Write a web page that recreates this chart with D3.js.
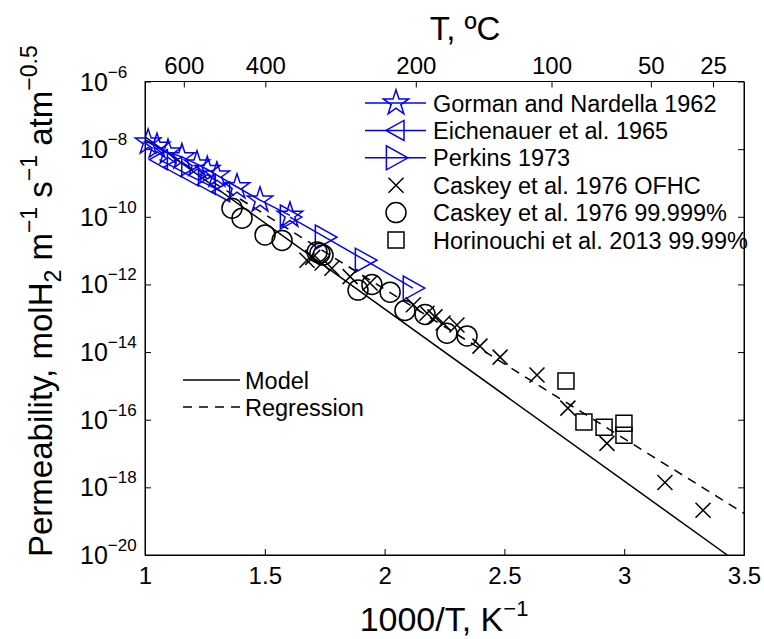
<!DOCTYPE html>
<html lang="en">
<head>
<meta charset="UTF-8">
<title>Hydrogen permeability of copper</title>
<script src="https://d3js.org/d3.v7.min.js"></script>
<style>
  body { margin: 0; background: #fff; }
  svg text { font-family: "Liberation Sans", Arial, sans-serif; fill: #000; }
  .axis path, .axis line { fill: none; stroke: #000; stroke-width: 1; }
</style>
</head>
<body>
<script>
// points are [1000/T in K^-1, permeability in molH2 m^-1 s^-1 atm^-0.5]
var gorman = [[1.013, 1.6e-8], [1.05, 1.2e-8], [1.096, 8.1e-9], [1.154, 5.9e-9], [1.217, 3.6e-9],
              [1.26, 2.5e-9], [1.30, 1.7e-9], [1.384, 7.6e-10], [1.48, 3.1e-10], [1.605, 1.1e-10]];
var eichenauer = [[1.06, 4.9e-9], [1.12, 2.95e-9], [1.19, 1.6e-9], [1.26, 9.1e-10], [1.32, 5.5e-10]];
var perkins = [[1.605, 9.8e-11], [1.751, 2.5e-11], [1.918, 5.2e-12], [2.118, 7.8e-13]];
var caskeyOFHC = [[1.676, 5.2e-12], [1.70, 6.3e-12], [1.739, 4.3e-12], [1.78, 3.0e-12], [1.856, 1.7e-12],
                  [1.939, 1.1e-12], [2.12, 2.5e-13], [2.177, 1.4e-13], [2.21, 1.1e-13], [2.244, 7.2e-14],
                  [2.302, 6.3e-14], [2.398, 1.5e-14], [2.482, 7.1e-15], [2.636, 2.1e-15], [2.765, 2.2e-16],
                  [2.928, 2.0e-17], [3.17, 1.4e-18], [3.329, 2.1e-19]];
var caskeyPure = [[1.363, 1.8e-10], [1.405, 9.1e-11], [1.501, 2.9e-11], [1.572, 2.0e-11], [1.718, 9.1e-12],
                  [1.73, 8.3e-12], [1.743, 7.4e-12], [1.889, 6.8e-13], [1.947, 1.0e-12], [2.023, 5.9e-13],
                  [2.085, 1.7e-13], [2.169, 1.3e-13], [2.26, 3.6e-14], [2.344, 3.0e-14]];
var horinouchi = [[2.757, 1.4e-15], [2.832, 8.5e-17], [2.916, 6.0e-17], [2.999, 7.9e-17], [2.999, 3.5e-17]];
var model = [[1.0, 2.3e-8], [3.43, 1e-20]];
var regression = [[1.0, 1.9e-8], [3.5, 1.7e-19]];

var xTicks = [1, 1.5, 2, 2.5, 3, 3.5];
var yTicks = [1e-20, 1e-18, 1e-16, 1e-14, 1e-12, 1e-10, 1e-8, 1e-6];
var celsiusTicks = [600, 400, 200, 100, 50, 25];

var legendNames = ["Gorman and Nardella 1962", "Eichenauer et al. 1965", "Perkins 1973",
                   "Caskey et al. 1976 OFHC", "Caskey et al. 1976 99.999%", "Horinouchi et al. 2013 99.99%"];
var lineNames = ["Model", "Regression"];

var w = 764, h = 639;
var plotL = 145, plotR = 744, plotT = 81.5, plotB = 555;

var svg = d3.select("body").append("svg")
  .attr("width", w)
  .attr("height", h);

var xScale = d3.scaleLinear().domain([1, 3.5]).range([plotL, plotR]);
var yScale = d3.scaleLog().domain([1e-20, 1e-6]).range([plotB, plotT]);
// the Celsius axis of the original sits a few pixels right of the 1000/T axis
var xTop = xScale.copy().range([plotL + 4, plotR + 4]);

var blue = "#0000ff";

// clip for the model lines
svg.append("clipPath").attr("id", "plotclip")
  .append("rect").attr("x", plotL).attr("y", plotT)
  .attr("width", plotR - plotL).attr("height", plotB - plotT);

// axes
var xAxis = d3.axisBottom(xScale).tickValues(xTicks).tickSize(-6).tickSizeOuter(0).tickPadding(12)
  .tickFormat(function(d) { return d; });
var gx = svg.append("g").attr("class", "axis")
  .attr("transform", "translate(0," + plotB + ")").call(xAxis);
gx.selectAll("text").attr("font-size", "24px").attr("font-family", "Liberation Sans, Arial, sans-serif");

var topAxis = d3.axisTop(xTop)
  .tickValues(celsiusTicks.map(function(c) { return 1000 / (c + 273.15); }))
  .tickSize(-6).tickSizeOuter(0).tickPadding(8)
  .tickFormat(function(d, i) { return celsiusTicks[i]; });
var gt = svg.append("g").attr("class", "axis")
  .attr("transform", "translate(0," + plotT + ")").call(topAxis);
gt.select(".domain").remove();
gt.selectAll("text").attr("font-size", "24px").attr("font-family", "Liberation Sans, Arial, sans-serif");

var yAxis = d3.axisLeft(yScale).tickValues(yTicks).tickSize(-6).tickSizeOuter(0).tickFormat("");
svg.append("g").attr("class", "axis")
  .attr("transform", "translate(" + plotL + ",0)").call(yAxis);
var yAxisR = d3.axisRight(yScale).tickValues(yTicks).tickSize(-6).tickSizeOuter(0).tickFormat("");
svg.append("g").attr("class", "axis")
  .attr("transform", "translate(" + plotR + ",0)").call(yAxisR);

svg.append("rect")
  .attr("x", plotL).attr("y", plotT)
  .attr("width", plotR - plotL).attr("height", plotB - plotT)
  .attr("fill", "none").attr("stroke", "#000").attr("stroke-width", 1);

// y tick labels as 10^n
var ylab = svg.selectAll(".ylab").data(yTicks).enter().append("text")
  .attr("class", "ylab")
  .attr("x", 80)
  .attr("y", function(d) { return yScale(d) + 9; });
ylab.append("tspan").attr("font-size", "25px").text("10");
ylab.append("tspan").attr("font-size", "17px").attr("dy", -13)
  .text(function(d) { return "\u2212" + Math.round(-Math.log10(d)); });

// model and regression lines
var line = d3.line()
  .x(function(d) { return xScale(d[0]); })
  .y(function(d) { return yScale(d[1]); });

svg.append("path").datum(model)
  .attr("clip-path", "url(#plotclip)")
  .attr("d", line).attr("fill", "none").attr("stroke", "#000").attr("stroke-width", 1.5);
svg.append("path").datum(regression)
  .attr("clip-path", "url(#plotclip)")
  .attr("d", line).attr("fill", "none").attr("stroke", "#000").attr("stroke-width", 1.5)
  .attr("stroke-dasharray", "9,7");

// marker shapes
var star = d3.symbol().type(d3.symbolStar).size(200)();
function triLeft(s) { return "M" + (-s) + ",0L" + (s * 0.8) + "," + (-s) + "L" + (s * 0.8) + "," + s + "Z"; }
function triRight(s) { return "M" + s + ",0L" + (-s * 0.8) + "," + (-s) + "L" + (-s * 0.8) + "," + s + "Z"; }
var cross = "M-7.5,-7.5L7.5,7.5M-7.5,7.5L7.5,-7.5";
var square = "M-8,-8H8V8H-8Z";
var circle = d3.symbol().type(d3.symbolCircle).size(Math.PI * 100)();

function markers(data, shape, color) {
  svg.append("g").selectAll("path").data(data).enter().append("path")
    .attr("transform", function(d) { return "translate(" + xScale(d[0]) + "," + yScale(d[1]) + ")"; })
    .attr("d", shape)
    .attr("fill", "none")
    .attr("stroke", color)
    .attr("stroke-width", 1.5);
}

// blue series with connecting lines
[[gorman, star], [eichenauer, triLeft(10)], [perkins, triRight(12)]].forEach(function(s) {
  svg.append("path").datum(s[0])
    .attr("d", line).attr("fill", "none").attr("stroke", blue).attr("stroke-width", 1.5);
  markers(s[0], s[1], blue);
});
markers(caskeyOFHC, cross, "#000");
markers(caskeyPure, circle, "#000");
markers(horinouchi, square, "#000");

// legend (top right)
var legendShapes = [star, triLeft(10), triRight(12), cross, circle, square];
var lg = svg.append("g").selectAll("g").data(legendNames).enter().append("g")
  .attr("transform", function(d, i) { return "translate(0," + (103 + i * 27.4) + ")"; });
lg.filter(function(d, i) { return i < 3; }).append("line")
  .attr("x1", 365).attr("x2", 426).attr("y1", 0).attr("y2", 0)
  .attr("stroke", blue).attr("stroke-width", 1.5);
lg.append("path")
  .attr("transform", "translate(396,0)")
  .attr("d", function(d, i) { return legendShapes[i]; })
  .attr("fill", "none")
  .attr("stroke", function(d, i) { return i < 3 ? blue : "#000"; })
  .attr("stroke-width", 1.5);
lg.append("text")
  .attr("x", 433).attr("y", 8.5)
  .attr("font-size", "23.5px")
  .text(function(d) { return d; });

// legend (model / regression)
var lg2 = svg.append("g").selectAll("g").data(lineNames).enter().append("g")
  .attr("transform", function(d, i) { return "translate(0," + (380 + i * 27) + ")"; });
lg2.append("line")
  .attr("x1", 183).attr("x2", 240).attr("y1", 0).attr("y2", 0)
  .attr("stroke", "#000").attr("stroke-width", 1.5)
  .attr("stroke-dasharray", function(d, i) { return i === 1 ? "9,7" : null; });
lg2.append("text")
  .attr("x", 245).attr("y", 8.5)
  .attr("font-size", "23.5px")
  .text(function(d) { return d; });

// axis titles
var xt = svg.append("text")
  .attr("x", 444).attr("y", 631)
  .attr("text-anchor", "middle")
  .attr("font-size", "34px");
xt.append("tspan").text("1000/T, K");
xt.append("tspan").attr("font-size", "22px").attr("dy", -15).text("\u22121");

svg.append("text")
  .attr("x", 465).attr("y", 40)
  .attr("text-anchor", "middle")
  .attr("font-size", "33px")
  .text("T, \u00baC");

var yt = svg.append("text")
  .attr("transform", "translate(52,557) rotate(-90)")
  .attr("font-size", "33px");
yt.append("tspan").text("Permeability, molH");
yt.append("tspan").attr("font-size", "23px").attr("dy", 9).text("2");
yt.append("tspan").attr("dy", -9).text(" m");
yt.append("tspan").attr("font-size", "23px").attr("dy", -15).text("\u22121");
yt.append("tspan").attr("dy", 15).text(" s");
yt.append("tspan").attr("font-size", "23px").attr("dy", -15).text("\u22121");
yt.append("tspan").attr("dy", 15).text(" atm");
yt.append("tspan").attr("font-size", "23px").attr("dy", -15).text("\u22120.5");
</script>
</body>
</html>
